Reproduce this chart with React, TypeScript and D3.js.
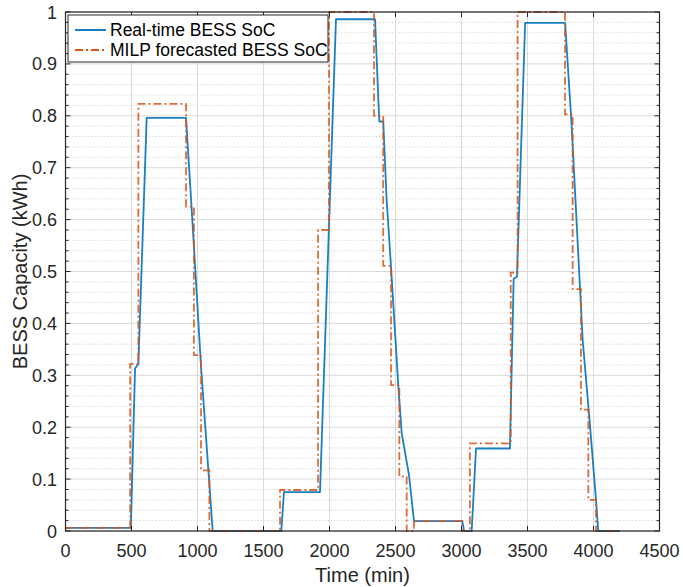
import React from "react";
import * as d3 from "d3";

// Real-time BESS SoC (kWh) vs time (min)
const realTimeT = [0, 495, 527, 552, 615, 913, 961, 1027, 1115, 1635, 1655, 1928, 2049, 2345, 2377, 2407, 2433, 2466, 2521, 2547, 2602, 2640, 3006, 3020, 3077, 3110, 3367, 3395, 3420, 3482, 3785, 3835, 3918, 3968, 4019, 4036, 4200];
const realTimeSoC = [0.006, 0.006, 0.313, 0.322, 0.796, 0.796, 0.599, 0.316, 0, 0, 0.075, 0.075, 0.986, 0.986, 0.789, 0.789, 0.638, 0.509, 0.281, 0.188, 0.108, 0.019, 0.019, 0, 0, 0.159, 0.159, 0.486, 0.49, 0.979, 0.979, 0.779, 0.368, 0.22, 0.06, 0, 0];

// MILP forecasted BESS SoC (step after each breakpoint)
const milpT = [0, 490, 552, 913, 973, 1027, 1090, 1625, 1913, 1996, 2337, 2407, 2466, 2529, 2585, 2640, 3006, 3064, 3373, 3425, 3784, 3842, 3905, 3961, 4019, 4200];
const milpSoC = [0.006, 0.322, 0.823, 0.625, 0.339, 0.117, 0, 0.079, 0.58, 1.0, 0.8, 0.511, 0.281, 0.105, 0, 0.019, 0, 0.169, 0.498, 1.0, 0.803, 0.466, 0.234, 0.06, 0, 0];

const xTickValues = [0, 500, 1000, 1500, 2000, 2500, 3000, 3500, 4000, 4500];
const yTickValues = [0, 0.1, 0.2, 0.3, 0.4, 0.5, 0.6, 0.7, 0.8, 0.9, 1];
const yTickLabels = ["0", "0.1", "0.2", "0.3", "0.4", "0.5", "0.6", "0.7", "0.8", "0.9", "1"];
const seriesNames = ["Real-time BESS SoC", "MILP forecasted BESS SoC"];

const W = 683, H = 587;
const L = 65.5, R = 659.5, T = 12, B = 531;
const AX = "#262626";
const BLUE = "#0072BD";
const ORANGE = "#D95319";
const FONT = "'Liberation Sans', Arial, Helvetica, sans-serif";

export default function App() {
  const x = d3.scaleLinear().domain([0, 4500]).range([L, R]);
  const y = d3.scaleLinear().domain([0, 1]).range([B, T]);
  const minorY = d3.range(0, 50).map((i) => i * 0.02).filter((v, i) => i % 5 !== 0);

  const blueData = realTimeT.map((t, i) => [t, realTimeSoC[i]] as [number, number]);
  const orangeData = milpT.map((t, i) => [t, milpSoC[i]] as [number, number]);
  const lineLin = d3.line<[number, number]>().x((d) => x(d[0])).y((d) => y(d[1]));
  const lineStep = d3.line<[number, number]>().x((d) => x(d[0])).y((d) => y(d[1])).curve(d3.curveStepAfter);

  return (
    <svg width={W} height={H} style={{ position: "absolute", left: 0, top: 0, background: "#fff" }} fontFamily={FONT}>
      <rect x={0} y={0} width={W} height={H} fill="#fff" />
      {/* minor grid */}
      {minorY.map((v, i) => (
        <line key={"mg" + i} x1={L} x2={R} y1={y(v)} y2={y(v)} stroke="#c8c8c8" strokeWidth={1} strokeDasharray="1,2.2" />
      ))}
      {/* major grid */}
      {yTickValues.map((v, i) => (
        <line key={"gy" + i} x1={L} x2={R} y1={y(v)} y2={y(v)} stroke="#dadada" strokeWidth={1} />
      ))}
      {xTickValues.map((v, i) => (
        <line key={"gx" + i} x1={x(v)} x2={x(v)} y1={T} y2={B} stroke="#dadada" strokeWidth={1} />
      ))}
      {/* data */}
      <path d={lineLin(blueData) || ""} fill="none" stroke={BLUE} strokeWidth={1.8} strokeLinejoin="round" opacity={0.9} />
      <path d={lineStep(orangeData) || ""} fill="none" stroke={ORANGE} strokeWidth={1.8} strokeDasharray="8,3,2,3" opacity={0.85} />
      {/* axes box */}
      <rect x={L} y={T} width={R - L} height={B - T} fill="none" stroke={AX} strokeWidth={1.2} />
      {/* ticks */}
      {xTickValues.map((v, i) => (
        <g key={"xt" + i}>
          <line x1={x(v)} x2={x(v)} y1={B} y2={B - 5} stroke={AX} strokeWidth={1} />
          <line x1={x(v)} x2={x(v)} y1={T} y2={T + 5} stroke={AX} strokeWidth={1} />
          <text x={x(v)} y={557} textAnchor="middle" fontSize={18} fill={AX}>{String(v)}</text>
        </g>
      ))}
      {yTickValues.map((v, i) => (
        <g key={"yt" + i}>
          <line x1={L} x2={L + 5} y1={y(v)} y2={y(v)} stroke={AX} strokeWidth={1} />
          <line x1={R} x2={R - 5} y1={y(v)} y2={y(v)} stroke={AX} strokeWidth={1} />
          <text x={57} y={y(v) + 6.5} textAnchor="end" fontSize={18} fill={AX}>{yTickLabels[i]}</text>
        </g>
      ))}
      {minorY.map((v, i) => (
        <g key={"ymt" + i}>
          <line x1={L} x2={L + 3} y1={y(v)} y2={y(v)} stroke={AX} strokeWidth={1} />
          <line x1={R} x2={R - 3} y1={y(v)} y2={y(v)} stroke={AX} strokeWidth={1} />
        </g>
      ))}
      {/* axis labels */}
      <text x={(L + R) / 2} y={582} textAnchor="middle" fontSize={20} fill={AX}>Time (min)</text>
      <text transform={`translate(27,${(T + B) / 2}) rotate(-90)`} textAnchor="middle" fontSize={20} fill={AX}>BESS Capacity (kWh)</text>
      {/* legend */}
      <g>
        <rect x={68} y={15} width={260} height={47} fill="#fff" stroke={AX} strokeWidth={1} />
        <line x1={75} x2={106} y1={30} y2={30} stroke={BLUE} strokeWidth={1.8} />
        <text x={110} y={36.3} fontSize={17.5} fill="#000">{seriesNames[0]}</text>
        <line x1={75} x2={106} y1={50} y2={50} stroke={ORANGE} strokeWidth={1.8} strokeDasharray="8,3,2,3" />
        <text x={110} y={56.3} fontSize={17.5} fill="#000">{seriesNames[1]}</text>
      </g>
    </svg>
  );
}
